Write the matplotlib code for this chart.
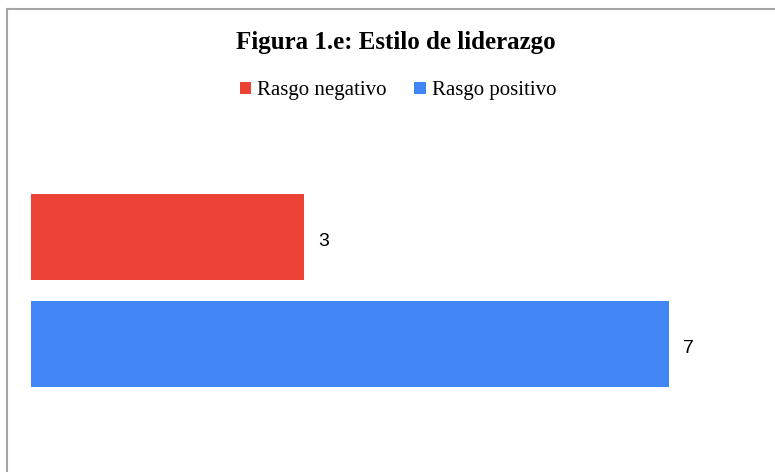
import matplotlib
matplotlib.use("Agg")
import matplotlib.pyplot as plt
from matplotlib.lines import Line2D

# data
series = ["Rasgo negativo", "Rasgo positivo"]
values = [3, 7]
colors = ["#EA4335", "#4285F4"]
positions = [1, 0]

W, H = 775, 472
fig = plt.figure(figsize=(W / 100, H / 100), dpi=100)

# axes placed in pixel terms: x 31..760, y 150..440 (from top)
ax = fig.add_axes([31 / W, (H - 440) / H, (760 - 31) / W, 290 / H])
for name, val, col, pos in zip(series, values, colors, positions):
    ax.barh(pos, val, height=0.8, color=col, label=name)
    ax.annotate(str(val), (val, pos), xytext=(10, -3), textcoords="offset points",
                ha="left", va="center", fontsize=14, family="Liberation Sans")

ax.set_xlim(0, 8)
ax.set_ylim(-0.897, 1.813)
ax.axis("off")

fig.text(396 / W, 1 - 43 / H, "Figura 1.e: Estilo de liderazgo", ha="center", va="center",
         fontsize=18, fontweight="bold", family="Liberation Serif")

handles, labels = ax.get_legend_handles_labels()
fig.legend(handles, labels, loc="center", bbox_to_anchor=(398 / W, 1 - 91 / H), ncol=2,
           frameon=False, handlelength=0.55, handleheight=0.55, handletextpad=0.3,
           columnspacing=1.3, prop={"family": "Liberation Serif", "size": 15})

# outer chart border (only top and left visible)
fig.add_artist(Line2D([7 / W, 1], [1 - 9 / H, 1 - 9 / H], color="#a6a6a6", lw=1.5,
                      transform=fig.transFigure))
fig.add_artist(Line2D([7 / W, 7 / W], [0, 1 - 9 / H], color="#a6a6a6", lw=1.5,
                      transform=fig.transFigure))

fig.savefig("out.png", dpi=100)
